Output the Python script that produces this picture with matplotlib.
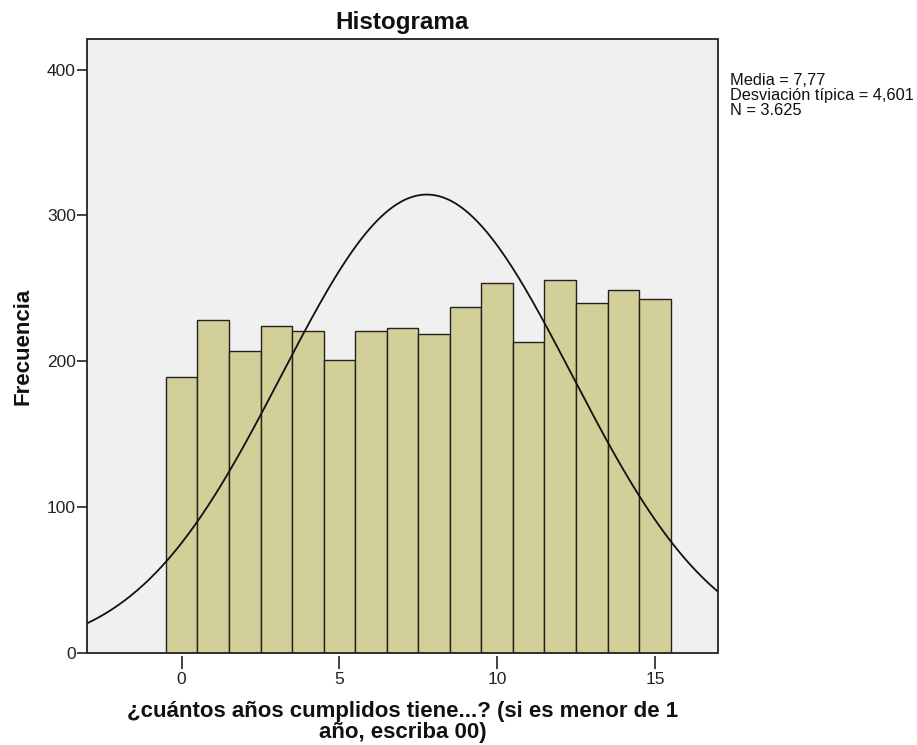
import numpy as np
import matplotlib
matplotlib.use("Agg")
import matplotlib.pyplot as plt
from matplotlib.patches import Rectangle

plt.rcParams['font.family'] = ['Liberation Sans', 'DejaVu Sans']

# Data
ages = [0, 1, 2, 3, 4, 5, 6, 7, 8, 9, 10, 11, 12, 13, 14, 15]
counts = [189, 228, 207, 224, 221, 201, 221, 223, 219, 237, 254, 213, 256, 240, 249, 243]
mean_val = 7.77
sd_val = 4.601
n_val = 3625
x_ticks = [0, 5, 10, 15]
y_ticks = [0, 100, 200, 300, 400]

fig = plt.figure(figsize=(9.17, 7.45), dpi=100)
ax = fig.add_axes([0.0949, 0.1235, 0.6881, 0.8242])
ax.set_facecolor('#F0F0F0')

ax.bar(ages, counts, width=1.0, color='#D3CF98', edgecolor='#222222', linewidth=1.0, zorder=2)

xs = np.linspace(-3, 17, 400)
pdf = n_val * 1.0 / (sd_val * np.sqrt(2 * np.pi)) * np.exp(-0.5 * ((xs - mean_val) / sd_val) ** 2)
ax.plot(xs, pdf, color='#111111', linewidth=1.3, zorder=3)

ax.set_xlim(-3, 17)
ax.set_ylim(0, 421)
ax.set_xticks(x_ticks)
ax.set_yticks(y_ticks)

for s in ['top', 'right', 'left']:
    ax.spines[s].set_visible(False)
ax.spines['bottom'].set_position(('outward', 2))
ax.spines['bottom'].set_visible(False)
frame = Rectangle((0, 0), 1, 1, transform=ax.transAxes, fill=False,
                  edgecolor='#222222', linewidth=1.3, clip_on=False, zorder=5)
ax.add_patch(frame)

ax.tick_params(axis='y', direction='out', length=7, width=1.2, color='#222222',
               labelsize=12.5, pad=1, labelcolor='#222222')
ax.tick_params(axis='x', direction='out', length=9, width=1.2, color='#222222',
               labelsize=12.5, pad=3, labelcolor='#222222')

ax.set_title('Histograma', fontsize=17.5, fontweight='bold', pad=7, color='#111111')
ax.set_ylabel('Frecuencia', fontsize=16, fontweight='bold', labelpad=10, color='#111111')
ax.set_xlabel('¿cuántos años cumplidos tiene...? (si es menor de 1\naño, escriba 00)',
              fontsize=16, fontweight='bold', labelpad=10, color='#111111', linespacing=0.95)

fig.text(730 / 917, 1 - 73 / 745,
         'Media = 7,77\nDesviación típica = 4,601\nN = 3.625',
         fontsize=11.8, va='top', ha='left', color='#111111', linespacing=1.02)

fig.savefig('out.png', dpi=100)
